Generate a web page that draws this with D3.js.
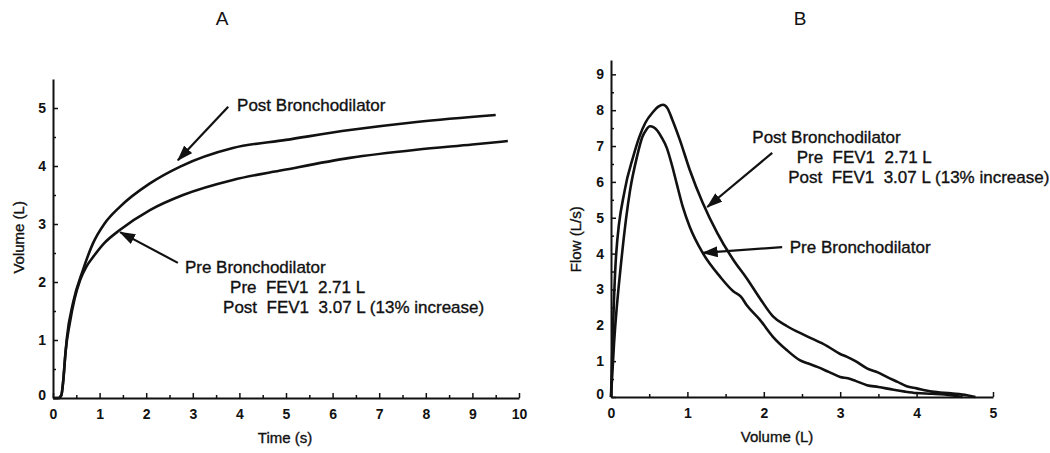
<!DOCTYPE html>
<html>
<head>
<meta charset="utf-8">
<script src="https://cdn.jsdelivr.net/npm/d3@7"></script>
<style>
  body { margin: 0; background: #fff; }
  text { font-family: "Liberation Sans", Arial, sans-serif; fill: #111; }
  .tick text { font-weight: bold; font-size: 14px; }
  .domain, .tick line { stroke: #111; }
  .note, .label { stroke: #111; stroke-width: 0.35px; }
</style>
</head>
<body>
<div id="chart"></div>
<script>
// Panel A: volume-time curves (t in s, v in L)
const preVT = [[0,0],[0.12,0],[0.18,0.05],[0.22,0.3],[0.27,0.8],[0.36,1.29],[0.46,1.7],[0.58,2.03],[0.72,2.27],[0.86,2.43],[1.1,2.67],[1.44,2.9],[2.08,3.24],[2.79,3.5],[3.86,3.76],[4.94,3.93],[6.37,4.14],[7.8,4.28],[9.0,4.37],[9.76,4.43]]
const postVT = [[0,0],[0.12,0],[0.18,0.05],[0.22,0.3],[0.26,0.7],[0.3,1.05],[0.43,1.64],[0.64,2.2],[0.86,2.67],[1.1,3.0],[1.44,3.3],[2.08,3.7],[2.73,3.99],[3.86,4.31],[5.0,4.45],[6.37,4.62],[7.8,4.76],[9.5,4.88]]

// Panel B: flow-volume curves (V in L, F in L/s)
const preFV = [[0,0],[0.04,1.5],[0.14,3.9],[0.25,5.77],[0.34,6.7],[0.41,7.25],[0.46,7.45],[0.51,7.55],[0.56,7.52],[0.61,7.42],[0.66,7.25],[0.73,6.95],[0.8,6.45],[0.86,5.95],[0.94,5.3],[1.03,4.75],[1.2,4.02],[1.43,3.35],[1.6,2.95],[1.7,2.8],[1.78,2.55],[1.95,2.15],[2.12,1.68],[2.3,1.31],[2.47,1.03],[2.6,0.92],[2.7,0.84],[2.85,0.7],[3.0,0.56],[3.1,0.52],[3.2,0.45],[3.35,0.33],[3.5,0.28],[3.7,0.2],[3.85,0.15],[4.0,0.11],[4.2,0.09],[4.45,0.05],[4.6,0]]
const postFV = [[0,0],[0.02,1.5],[0.065,3.9],[0.18,5.77],[0.29,6.7],[0.37,7.25],[0.45,7.65],[0.55,7.95],[0.62,8.1],[0.68,8.15],[0.74,8.05],[0.8,7.75],[0.9,7.18],[1.03,6.34],[1.2,5.42],[1.39,4.58],[1.6,3.83],[1.78,3.3],[1.95,2.75],[2.12,2.25],[2.3,1.98],[2.56,1.7],[2.83,1.42],[3.0,1.2],[3.09,1.12],[3.2,1.0],[3.35,0.8],[3.5,0.68],[3.61,0.56],[3.75,0.42],[3.87,0.3],[4.0,0.24],[4.2,0.15],[4.45,0.1],[4.66,0.05],[4.77,0]]

const ticksA_x = d3.range(0, 11)
const ticksA_y = d3.range(0, 6)
const ticksB_x = d3.range(0, 6)
const ticksB_y = d3.range(0, 10)

// annotations in data units
const arrowsA = [{from: [3.76, 5.02], to: [2.68, 4.10]}, {from: [2.68, 2.33], to: [1.44, 2.86]}]
const labelsA = [
  {pos: [3.95, 5.05], text: 'Post Bronchodilator'},
  {pos: [2.83, 2.26], text: 'Pre Bronchodilator'},
  {pos: [3.8, 1.91], text: 'Pre  FEV1  2.71 L'},
  {pos: [3.65, 1.57], text: 'Post  FEV1  3.07 L (13% increase)'}
]
const arrowsB = [{from: [2.11, 6.81], to: [1.26, 5.3]}, {from: [2.24, 4.18], to: [1.2, 4.02]}]
const labelsB = [
  {pos: [1.85, 7.25], text: 'Post Bronchodilator'},
  {pos: [2.43, 6.69], text: 'Pre  FEV1  2.71 L'},
  {pos: [2.32, 6.14], text: 'Post  FEV1  3.07 L (13% increase)'},
  {pos: [2.34, 4.18], text: 'Pre Bronchodilator'}
]

const svg = d3.select('#chart').append('svg')
    .attr('width', 1050)
    .attr('height', 453)

svg.append('defs').append('marker')
    .attr('id', 'head')
    .attr('viewBox', '0 0 16 11')
    .attr('refX', 15).attr('refY', 5.5)
    .attr('markerUnits', 'userSpaceOnUse')
    .attr('markerWidth', 16).attr('markerHeight', 11)
    .attr('orient', 'auto')
  .append('path')
    .attr('d', 'M0,0 L16,5.5 L0,11 Z')
    .attr('fill', '#111')

function panel(o) {
    const x = d3.scaleLinear().domain(o.xDomain).range(o.xRange)
    const y = d3.scaleLinear().domain(o.yDomain).range(o.yRange)
    const g = svg.append('g')

    // minor ticks
    g.append('g')
        .attr('transform', `translate(0, ${o.yRange[0]})`)
        .call(d3.axisBottom(x).tickValues(d3.range(0.5, o.xDomain[1], 1)).tickSize(-3).tickFormat(''))
        .call(a => a.select('.domain').remove())
    g.append('g')
        .attr('transform', `translate(${o.xRange[0]}, 0)`)
        .call(d3.axisLeft(y).tickValues(d3.range(0.5, o.yDomain[1], 1)).tickSize(-3).tickFormat(''))
        .call(a => a.select('.domain').remove())

    g.append('g')
        .attr('transform', `translate(0, ${o.yRange[0]})`)
        .call(d3.axisBottom(x).tickValues(o.xTicks).tickFormat(d3.format('d'))
            .tickSizeInner(-5).tickSizeOuter(0).tickPadding(11))
    const yAxis = g.append('g')
        .attr('transform', `translate(${o.xRange[0]}, 0)`)
        .call(d3.axisLeft(y).tickValues(o.yTicks).tickFormat(d3.format('d'))
            .tickSizeInner(-5).tickSizeOuter(0).tickPadding(7))
    g.selectAll('.domain').attr('stroke-width', 2)
    g.selectAll('.tick line').attr('stroke-width', 1.5)
    g.selectAll('.tick text').attr('fill', '#111')
    // zero label sits a bit off the origin
    yAxis.selectAll('.tick').filter(d => d === 0).select('text').attr('dy', '0.1em')

    const line = d3.line().x(d => x(d[0])).y(d => y(d[1])).curve(d3.curveMonotoneX)
    o.series.forEach(s => {
        g.append('path')
            .attr('d', line(s))
            .attr('fill', 'none')
            .attr('stroke', '#111')
            .attr('stroke-width', 2.6)
            .attr('stroke-linejoin', 'round')
    })

    g.selectAll('.arrow').data(o.arrows).enter()
        .append('line')
        .attr('x1', d => x(d.from[0])).attr('y1', d => y(d.from[1]))
        .attr('x2', d => x(d.to[0])).attr('y2', d => y(d.to[1]))
        .attr('stroke', '#111').attr('stroke-width', 2.2)
        .attr('marker-end', 'url(#head)')

    g.selectAll('.note').data(o.labels).enter()
        .append('text')
        .attr('class', 'note')
        .attr('x', d => x(d.pos[0])).attr('y', d => y(d.pos[1]))
        .attr('dy', '0.35em')
        .style('font-size', '17px')
        .style('white-space', 'pre')
        .text(d => d.text)

    g.append('text')
        .attr('class', 'label')
        .attr('x', (o.xRange[0] + o.xRange[1]) / 2 + o.xLabelShift)
        .attr('y', o.yRange[0] + 45)
        .attr('text-anchor', 'middle')
        .style('font-size', '15px')
        .text(o.xLabel)

    g.append('text')
        .attr('class', 'label')
        .attr('transform', `translate(${o.xRange[0] - o.yLabelOffset}, ${y(o.yLabelAt)}) rotate(-90)`)
        .attr('text-anchor', 'middle')
        .style('font-size', '15px')
        .text(o.yLabel)

    g.append('text')
        .attr('x', o.titleX).attr('y', 25)
        .attr('text-anchor', 'middle')
        .style('font-size', '19px')
        .text(o.title)
}

panel({
    xDomain: [0, 10], xRange: [53, 519],
    yDomain: [0, 5.5], yRange: [398, 79],
    xTicks: ticksA_x, yTicks: ticksA_y,
    series: [preVT, postVT],
    arrows: arrowsA, labels: labelsA,
    xLabel: 'Time (s)', xLabelShift: -1,
    yLabel: 'Volume (L)', yLabelOffset: 29, yLabelAt: 2.77,
    title: 'A', titleX: 222
})

panel({
    xDomain: [0, 5], xRange: [611, 993],
    yDomain: [0, 9.4], yRange: [397, 60],
    xTicks: ticksB_x, yTicks: ticksB_y,
    series: [preFV, postFV],
    arrows: arrowsB, labels: labelsB,
    xLabel: 'Volume (L)', xLabelShift: -25,
    yLabel: 'Flow (L/s)', yLabelOffset: 30, yLabelAt: 4.4,
    title: 'B', titleX: 800
})
</script>
</body>
</html>
